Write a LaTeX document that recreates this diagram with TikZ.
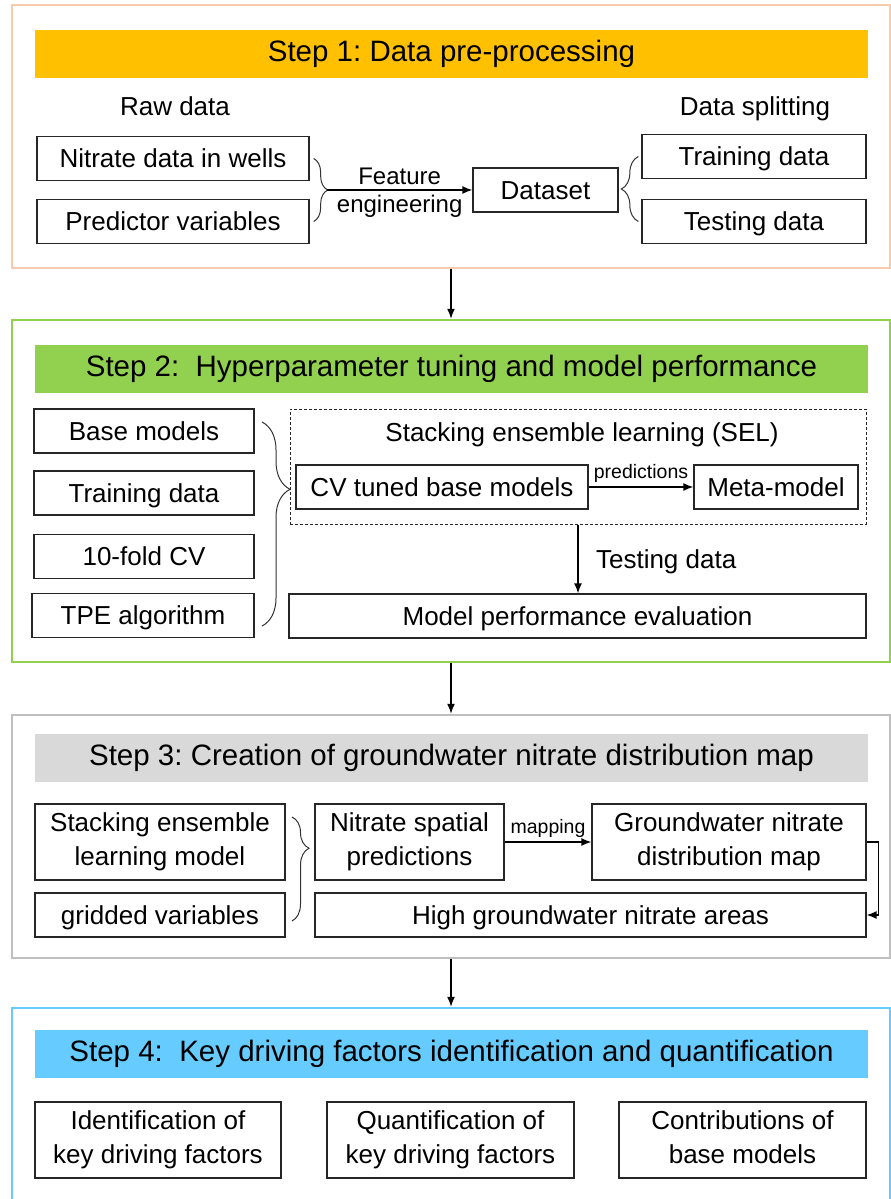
\documentclass[tikz,border=0pt]{standalone}
\usepackage{fontspec}
\setmainfont{Liberation Sans}
\usetikzlibrary{arrows.meta,decorations.pathreplacing,positioning}
\definecolor{stepone}{HTML}{FFC000}
\definecolor{steponeline}{HTML}{F8CBAD}
\definecolor{steptwo}{HTML}{92D050}
\definecolor{stepthree}{HTML}{D9D9D9}
\definecolor{stepthreeline}{HTML}{BFBFBF}
\definecolor{stepfour}{HTML}{66CCFF}
\newcommand{\bodysize}{\fontsize{26}{34}\selectfont}
\newcommand{\titlesize}{\fontsize{29.5}{35}\selectfont}
\newcommand{\smallsize}{\fontsize{19.5}{22}\selectfont}
\newcommand{\midsize}{\fontsize{24}{26}\selectfont}
\newcommand{\boxstrut}{\rule[-5.5pt]{0pt}{29.5pt}}
\frenchspacing

\begin{document}
\begin{tikzpicture}[x=1pt,y=-1pt,
  every node/.style={font=\bodysize,text=black},
  box/.style={draw=black!85,line width=1.3pt,inner sep=0pt,align=center,minimum height=44pt,
    execute at begin node=\boxstrut,execute at end node=\boxstrut},
  tallbox/.style={box,minimum height=76pt},
  lbl/.style={execute at begin node=\boxstrut},
  frame/.style={draw,line width=2.5pt,inner sep=0pt},
  titlebar/.style={inner sep=0pt,minimum width=833pt,minimum height=48pt,font=\titlesize},
  arr/.style={-{Latex[length=10pt,width=8pt]},line width=1.4pt},
  brace/.style={decorate,decoration={brace,amplitude=#1},line width=1pt,draw=black!80},
  brace/.default=14pt]
\useasboundingbox (0,0) rectangle (891,1199);
\clip (0,0) rectangle (891,1199);

% Step 1
\node[frame,draw=steponeline,minimum width=878pt,minimum height=263pt] (step1) at (451,136.5) {};
\node[titlebar,fill=stepone] (title1) at (451.5,54) {Step 1: Data pre-processing};
\node[lbl] (rawdata) at (175,106) {Raw data};
\node[lbl] (splitting) at (755,106) {Data splitting};
\node[box,minimum width=272pt] (nitrate) at (173,158.5) {Nitrate data in wells};
\node[box,minimum width=272pt] (predictor) at (173,221.5) {Predictor variables};
\node[box,minimum width=145pt] (dataset) at (545.5,190) {Dataset};
\node[box,minimum width=224pt] (training) at (754,156.5) {Training data};
\node[box,minimum width=224pt] (testing) at (754,221.5) {Testing data};
\draw[brace] ([xshift=4pt]nitrate.east) -- ([xshift=4pt]predictor.east);
\coordinate (rawjoin) at (327,190);
\draw[arr] (rawjoin) -- node[above=1pt,font=\midsize] {Feature}
  node[below=1pt,font=\midsize] {engineering} (dataset.west);
\draw[brace=17pt] ([xshift=-3pt]testing.west) -- ([xshift=-3pt]training.west);

% Step 2
\node[frame,draw=steptwo,minimum width=878pt,minimum height=342pt] (step2) at (451,491) {};
\node[titlebar,fill=steptwo] (title2) at (451.5,368.5) {Step 2:~ Hyperparameter tuning and model performance};
\node[box,minimum width=220pt] (base) at (144,431) {Base models};
\node[box,minimum width=220pt] (train2) at (144,493) {Training data};
\node[box,minimum width=220pt] (cvfold) at (144,556.5) {10-fold CV};
\node[box,minimum width=222pt] (tpe) at (143,615.5) {TPE algorithm};
\node[draw=black!85,densely dashed,line width=1pt,inner sep=0pt,minimum width=576pt,minimum height=115pt] (sel) at (578,466.5) {};
\node[lbl] (sellabel) at (582,432) {Stacking ensemble learning (SEL)};
\node[box,minimum width=292pt] (cvtuned) at (442,487) {CV tuned base models};
\node[box,minimum width=164pt] (meta) at (776,487) {Meta-model};
\node[box,minimum width=577pt] (eval) at (577.5,616) {Model performance evaluation};
\draw[arr] (cvtuned) -- node[above=0pt,font=\smallsize] {predictions} (meta);
\draw[arr] (sel.south) -- node[right=14pt,lbl] {Testing data} (sel.south |- eval.north);
\draw[brace=28pt,decoration={aspect=0.33}] (262,422) -- (262,626);
\draw[arr] (step1.south) -- (step2.north);

% Step 3
\node[frame,draw=stepthreeline,minimum width=878pt,minimum height=243pt] (step3) at (451,836.5) {};
\node[titlebar,fill=stepthree] (title3) at (451.5,758) {Step 3: Creation of groundwater nitrate distribution map};
\node[tallbox,minimum width=250pt] (selmodel) at (160,842) {Stacking ensemble\\learning model};
\node[box,minimum width=250pt] (gridded) at (160,915) {gridded variables};
\node[tallbox,minimum width=189pt] (spatial) at (409.5,842) {Nitrate spatial\\predictions};
\node[tallbox,minimum width=274pt] (gwmap) at (729,842) {Groundwater nitrate\\distribution map};
\node[box,minimum width=551pt] (high) at (590.5,915) {High groundwater nitrate areas};
\draw[brace=17pt,decoration={aspect=0.3}] (292,817) -- (292,921);
\draw[arr] (spatial) -- node[above=0pt,font=\smallsize] {mapping} (gwmap);
\draw[arr] (gwmap.east) -- ++(12,0) |- (high.east);
\draw[arr] (step2.south) -- (step3.north);

% Step 4
\node[frame,draw=stepfour,minimum width=878pt,minimum height=222pt] (step4) at (451,1119) {};
\node[titlebar,fill=stepfour] (title4) at (451.5,1054) {Step 4:~ Key driving factors identification and quantification};
\node[tallbox,minimum width=246pt] (ident) at (158,1140) {Identification of\\key driving factors};
\node[tallbox,minimum width=247pt] (quant) at (450.5,1140) {Quantification of\\key driving factors};
\node[tallbox,minimum width=247pt] (contrib) at (742.5,1140) {Contributions of\\base models};
\draw[arr] (step3.south) -- (step4.north);
\end{tikzpicture}
\end{document}
